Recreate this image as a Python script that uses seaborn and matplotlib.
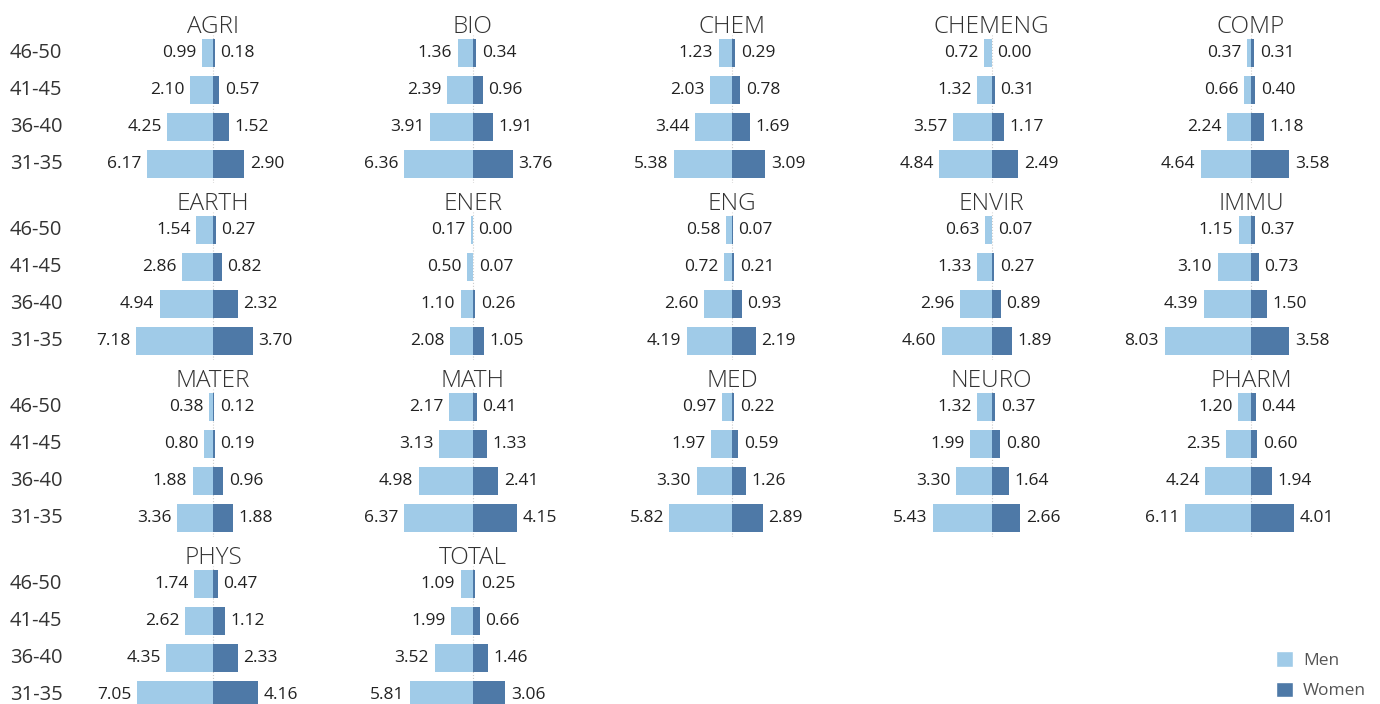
import pandas as pd
import numpy as np
import seaborn as sns
import matplotlib.pyplot as plt
from matplotlib.patches import Patch

ages = ['46-50', '41-45', '36-40', '31-35']
fields = ['AGRI', 'BIO', 'CHEM', 'CHEMENG', 'COMP',
          'EARTH', 'ENER', 'ENG', 'ENVIR', 'IMMU',
          'MATER', 'MATH', 'MED', 'NEURO', 'PHARM',
          'PHYS', 'TOTAL']

men = {
    'AGRI': [0.99, 2.10, 4.25, 6.17],
    'BIO': [1.36, 2.39, 3.91, 6.36],
    'CHEM': [1.23, 2.03, 3.44, 5.38],
    'CHEMENG': [0.72, 1.32, 3.57, 4.84],
    'COMP': [0.37, 0.66, 2.24, 4.64],
    'EARTH': [1.54, 2.86, 4.94, 7.18],
    'ENER': [0.17, 0.50, 1.10, 2.08],
    'ENG': [0.58, 0.72, 2.60, 4.19],
    'ENVIR': [0.63, 1.33, 2.96, 4.60],
    'IMMU': [1.15, 3.10, 4.39, 8.03],
    'MATER': [0.38, 0.80, 1.88, 3.36],
    'MATH': [2.17, 3.13, 4.98, 6.37],
    'MED': [0.97, 1.97, 3.30, 5.82],
    'NEURO': [1.32, 1.99, 3.30, 5.43],
    'PHARM': [1.20, 2.35, 4.24, 6.11],
    'PHYS': [1.74, 2.62, 4.35, 7.05],
    'TOTAL': [1.09, 1.99, 3.52, 5.81],
}
women = {
    'AGRI': [0.18, 0.57, 1.52, 2.90],
    'BIO': [0.34, 0.96, 1.91, 3.76],
    'CHEM': [0.29, 0.78, 1.69, 3.09],
    'CHEMENG': [0.00, 0.31, 1.17, 2.49],
    'COMP': [0.31, 0.40, 1.18, 3.58],
    'EARTH': [0.27, 0.82, 2.32, 3.70],
    'ENER': [0.00, 0.07, 0.26, 1.05],
    'ENG': [0.07, 0.21, 0.93, 2.19],
    'ENVIR': [0.07, 0.27, 0.89, 1.89],
    'IMMU': [0.37, 0.73, 1.50, 3.58],
    'MATER': [0.12, 0.19, 0.96, 1.88],
    'MATH': [0.41, 1.33, 2.41, 4.15],
    'MED': [0.22, 0.59, 1.26, 2.89],
    'NEURO': [0.37, 0.80, 1.64, 2.66],
    'PHARM': [0.44, 0.60, 1.94, 4.01],
    'PHYS': [0.47, 1.12, 2.33, 4.16],
    'TOTAL': [0.25, 0.66, 1.46, 3.06],
}

men_color = '#A0CBE8'
women_color = '#4E79A7'

rows = []
for f in fields:
    for a, m, w in zip(ages, men[f], women[f]):
        rows.append({'field': f, 'age': a, 'gender': 'Men', 'value': m, 'signed': -m})
        rows.append({'field': f, 'age': a, 'gender': 'Women', 'value': w, 'signed': w})
df = pd.DataFrame(rows)

sns.set_style('white')
plt.rcParams['font.family'] = ['Open Sans', 'DejaVu Sans']

W, H = 1380, 704
fig = plt.figure(figsize=(W / 100, H / 100), dpi=100)

col_w = 259.5
row_h = 177
half = 12.07
for i, f in enumerate(fields):
    r, c = divmod(i, 5)
    left = 213 + col_w * c - col_w / 2
    top = 34.5 + row_h * r
    ax = fig.add_axes([left / W, 1 - (top + 148) / H, col_w / W, 148 / H])
    sub = df[df.field == f]
    sns.barplot(data=sub, y='age', x='signed', hue='gender', order=ages,
                hue_order=['Men', 'Women'], palette=[men_color, women_color],
                dodge=False, width=0.76, orient='h', legend=False,
                saturation=1, linewidth=0, ax=ax)
    ax.set_xlim(-half, half)
    ax.set_ylim(3.5, -0.5)
    ax.axvline(0, color='#cccccc', lw=0.8, ls=':', zorder=0)
    ax.axis('off')
    ax.set_title(f, fontsize=17.5, color='#333333', pad=1, fontweight='light')
    for k, a in enumerate(ages):
        m = men[f][k]
        w = women[f][k]
        ax.annotate(f'{m:.2f}', (-m, k), xytext=(-4, 0), textcoords='offset points',
                    ha='right', va='center', fontsize=12.5, color='#222222')
        ax.annotate(f'{w:.2f}', (w, k), xytext=(4, 0), textcoords='offset points',
                    ha='left', va='center', fontsize=12.5, color='#222222')

for r in range(4):
    for k, a in enumerate(ages):
        y = 53 + row_h * r + 37 * k
        fig.text(10 / W, 1 - y / H, a, ha='left', va='center', fontsize=14.5, color='#333333')

handles = [Patch(facecolor=men_color, label='Men'), Patch(facecolor=women_color, label='Women')]
fig.legend(handles=handles, loc='upper left', bbox_to_anchor=(1276 / W, 1 - 651 / H),
           frameon=False, fontsize=12.5, handlelength=1, handleheight=1,
           handletextpad=0.55, labelspacing=0.75, borderpad=0, borderaxespad=0,
           labelcolor='#555555')

plt.savefig('out.png', dpi=100)
